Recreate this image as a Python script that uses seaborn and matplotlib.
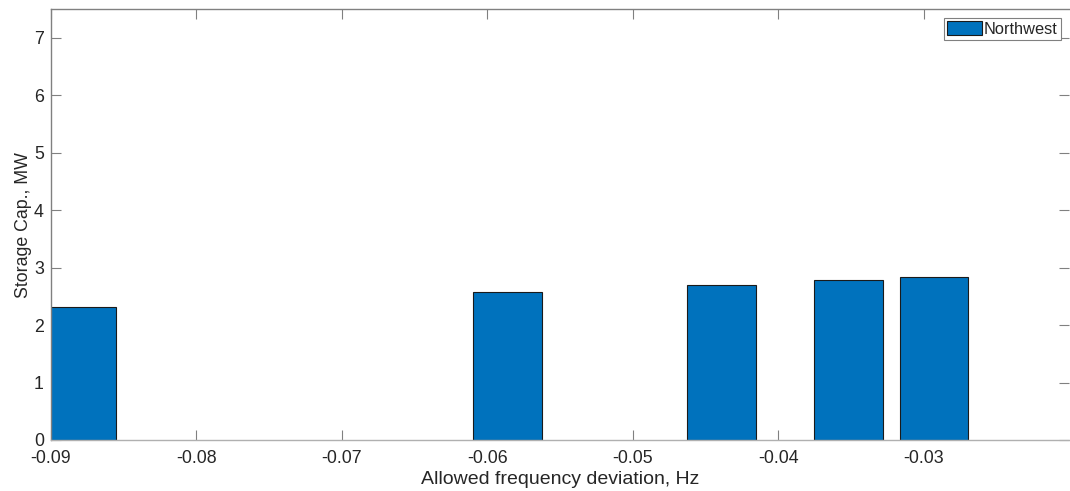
import seaborn as sns
import matplotlib.pyplot as plt
import matplotlib.patches as mpatches

# Data
deviation_hz = [-0.0879, -0.0586, -0.0439, -0.0352, -0.0293]
storage_mw = [2.31, 2.58, 2.70, 2.78, 2.83]
series_name = 'Northwest'
x_ticks = [-0.09, -0.08, -0.07, -0.06, -0.05, -0.04, -0.03]
y_ticks = [0, 1, 2, 3, 4, 5, 6, 7]

sns.set_style('white')
plt.rcParams['font.family'] = ['Liberation Sans', 'DejaVu Sans']
plt.rcParams['axes.unicode_minus'] = False

fig = plt.figure(figsize=(10.70, 4.91), dpi=100)
ax = fig.add_axes([0.0474, 0.1039, 0.952, 0.8772])

# native_scale keeps numeric x positions, width = 0.8 * min spacing (like MATLAB bar)
sns.barplot(x=deviation_hz, y=storage_mw, native_scale=True, color='#0072BD',
            saturation=1, edgecolor='#1a1a1a', linewidth=0.8, ax=ax)

ax.set_xlim(-0.09, -0.02)
ax.set_ylim(0, 7.5)
ax.set_xticks(x_ticks)
ax.set_xticklabels([f'{t:.2f}' for t in x_ticks])
ax.set_yticks(y_ticks)
ax.set_yticklabels([str(t) for t in y_ticks])

ax.set_xlabel('Allowed frequency deviation, Hz', fontsize=14, color='#262626', labelpad=3)
ax.set_ylabel('Storage Cap., MW', fontsize=12.8, color='#262626', labelpad=1)

for side in ['left', 'top', 'bottom']:
    ax.spines[side].set_visible(True)
    ax.spines[side].set_color('#808080')
    ax.spines[side].set_linewidth(1.0)
ax.spines['right'].set_visible(False)
ax.spines['bottom'].set_color('#b0b0b0')

ax.tick_params(axis='both', direction='in', length=7, width=0.8, color='#808080',
               labelsize=12.8, labelcolor='#262626', top=True, right=True,
               bottom=True, left=True)
ax.tick_params(axis='x', pad=7)
ax.tick_params(axis='y', pad=5)

handle = mpatches.Patch(facecolor='#0072BD', edgecolor='#1a1a1a', linewidth=0.8)
leg = ax.legend(handles=[handle], labels=[series_name], loc='upper right',
                bbox_to_anchor=(1061 / 1070, 1 - 18 / 491), bbox_transform=fig.transFigure,
                fontsize=11.8, fancybox=False, framealpha=1, edgecolor='#808080',
                handlelength=2.1, handleheight=0.9, handletextpad=0.15,
                borderpad=0.2, borderaxespad=0)
leg.get_frame().set_linewidth(0.8)

fig.savefig('out.png', dpi=100)
